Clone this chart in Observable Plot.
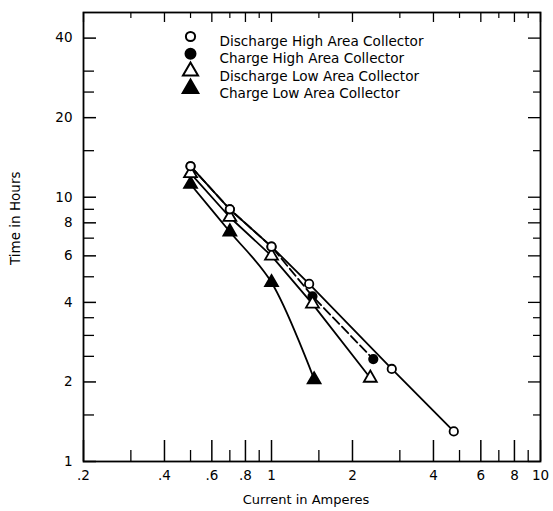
<!DOCTYPE html>
<html><head><meta charset="utf-8">
<script src="https://cdn.jsdelivr.net/npm/d3@7"></script>
<script src="https://cdn.jsdelivr.net/npm/@observablehq/plot@0.6"></script>
<style>body{margin:0;background:#fff}</style>
</head><body><div id="chart"></div>
<script>
// Data (log-log plot)
const dischargeHighX = [0.5, 0.7, 1.0, 1.38, 2.8, 4.76];
const dischargeHighY = [13.1, 9.0, 6.5, 4.7, 2.24, 1.30];
const chargeHighX = [0.5, 0.7, 1.0, 1.42, 2.39];
const chargeHighY = [13.1, 9.0, 6.5, 4.22, 2.44];
const dischargeLowX = [0.5, 0.7, 1.0, 1.42, 2.33];
const dischargeLowY = [12.3, 8.4, 6.0, 3.95, 2.07];
const chargeLowX = [0.5, 0.7, 1.0, 1.44];
const chargeLowY = [11.2, 7.4, 4.76, 2.04];

const seriesNames = ["Discharge High Area Collector", "Charge High Area Collector", "Discharge Low Area Collector", "Charge Low Area Collector"];

const xLabeledTicks = [0.2, 0.4, 0.6, 0.8, 1, 2, 4, 6, 8, 10];
const xTickLabels = [".2", ".4", ".6", ".8", "1", "2", "4", "6", "8", "10"];
const xMinorTicks = [0.3, 0.5, 0.7, 0.9, 1.5, 3, 5, 7, 9];
const yLabeledTicks = [1, 2, 4, 6, 8, 10, 20, 40];
const yTickLabels = ["1", "2", "4", "6", "8", "10", "20", "40"];
const yMinorTicks = [1.5, 2.5, 3, 3.5, 5, 7, 9, 15, 25, 30];
const xTitle = "Current in Amperes";
const yTitle = "Time in Hours";

const toRows = (xs, ys) => xs.map((x, i) => ({x, y: ys[i]}));
const dh = toRows(dischargeHighX, dischargeHighY);
const ch = toRows(chargeHighX, chargeHighY);
const dl = toRows(dischargeLowX, dischargeLowY);
const cl = toRows(chargeLowX, chargeLowY);
const xLab = xLabeledTicks.map((v, i) => ({v, t: xTickLabels[i]}));
const yLab = yLabeledTicks.map((v, i) => ({v, t: yTickLabels[i]}));

const W = 553, H = 511, mL = 83, mR = 13, mT = 12, mB = 50;
const iw = W - mL - mR, ih = H - mT - mB;
const font = "'DejaVu Sans',sans-serif";
const LW = 1.8;

const legendSym = [
  {symbol: "circle", fill: "white", r: 4.6},
  {symbol: "circle", fill: "black", r: 5},
  {symbol: "triangle", fill: "white", r: 5.6},
  {symbol: "triangle", fill: "black", r: 5.8}
];

const legendMarks = seriesNames.flatMap((name, i) => [
  Plot.dot([name], {frameAnchor: "top-left", dx: 107, dy: 24 + 17.3 * i, symbol: legendSym[i].symbol, r: legendSym[i].r, fill: legendSym[i].fill, stroke: "black", strokeWidth: 2}),
  Plot.text([name], {frameAnchor: "top-left", dx: 136, dy: 24 + 17.3 * i, textAnchor: "start", fontSize: 13.6, fill: "black"})
]);

const chart = Plot.plot({
  width: W, height: H,
  marginLeft: mL, marginRight: mR, marginTop: mT, marginBottom: mB,
  style: {fontFamily: font, fontSize: "13px", color: "black", background: "white"},
  x: {type: "log", domain: [0.2, 10], axis: null},
  y: {type: "log", domain: [1, 50], axis: null},
  marks: [
    // tick labels
    Plot.text(xLab, {x: "v", text: "t", frameAnchor: "bottom", lineAnchor: "top", dy: 9, fontSize: 13.5, fill: "black"}),
    Plot.text(yLab, {y: "v", text: "t", frameAnchor: "left", textAnchor: "end", dx: -11, fontSize: 13.5, fill: "black"}),
    // inward ticks: bottom
    Plot.ruleX(xLabeledTicks, {insetTop: ih - 21, strokeWidth: 1.5}),
    Plot.ruleX(xMinorTicks, {insetTop: ih - 11, strokeWidth: 1.3}),
    // top
    Plot.ruleX(xLabeledTicks, {insetBottom: ih - 10, strokeWidth: 1.3}),
    Plot.ruleX(xMinorTicks, {insetBottom: ih - 6, strokeWidth: 1.2}),
    // left
    Plot.ruleY(yLabeledTicks, {insetRight: iw - 13, strokeWidth: 1.5}),
    Plot.ruleY(yMinorTicks, {insetRight: iw - 11, strokeWidth: 1.3}),
    // right
    Plot.ruleY(yLabeledTicks, {insetLeft: iw - 12, strokeWidth: 1.3}),
    Plot.ruleY(yMinorTicks, {insetLeft: iw - 7, strokeWidth: 1.2}),
    Plot.frame({stroke: "black", strokeWidth: 1.8}),
    // lines
    Plot.line(dh, {x: "x", y: "y", stroke: "black", strokeWidth: LW}),
    Plot.line(ch, {x: "x", y: "y", stroke: "black", strokeWidth: LW, strokeDasharray: "9,4"}),
    Plot.line(dl, {x: "x", y: "y", stroke: "black", strokeWidth: LW}),
    Plot.line(cl, {x: "x", y: "y", stroke: "black", strokeWidth: LW, curve: "catmull-rom"}),
    // symbols
    Plot.dot(cl, {x: "x", y: "y", symbol: "triangle", r: 4.8, fill: "black", stroke: "black", strokeWidth: LW}),
    Plot.dot(ch, {x: "x", y: "y", symbol: "circle", r: 4.2, fill: "black", stroke: "black", strokeWidth: LW}),
    Plot.dot(dl, {x: "x", y: "y", symbol: "triangle", r: 4.8, fill: "white", stroke: "black", strokeWidth: LW}),
    Plot.dot(dh, {x: "x", y: "y", symbol: "circle", r: 4.2, fill: "white", stroke: "black", strokeWidth: LW}),
    // legend
    ...legendMarks,
    // axis titles
    Plot.text([xTitle], {frameAnchor: "bottom", dx: -6, dy: 42, fontSize: 13, fill: "black"}),
    Plot.text([yTitle], {frameAnchor: "left", dx: -68, dy: 28, rotate: -90, fontSize: 13.5, fill: "black"})
  ]
});
document.getElementById("chart").appendChild(chart);
</script>
</body></html>
